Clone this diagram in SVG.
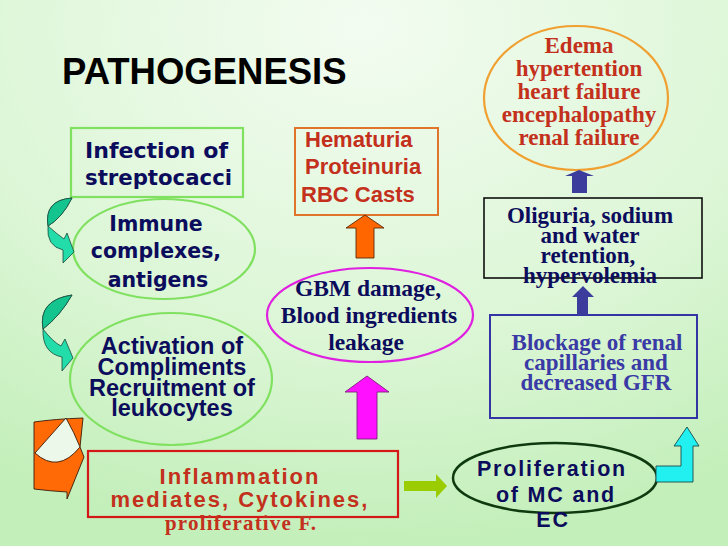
<svg xmlns="http://www.w3.org/2000/svg" width="728" height="546" viewBox="0 0 728 546">
<defs>
<radialGradient id="bg" cx="0.5" cy="0.05" r="0.95">
<stop offset="0" stop-color="#f3fcf1"/>
<stop offset="0.6" stop-color="#dcf6d6"/>
<stop offset="1" stop-color="#c3efba"/>
</radialGradient>
</defs>
<style>
.sans{font-family:"Liberation Sans",Arial,sans-serif;font-weight:bold}
.tah{font-family:"DejaVu Sans",Verdana,sans-serif;font-weight:bold}
.ser{font-family:"Liberation Serif","Times New Roman",serif;font-weight:bold}
.navy{fill:#0c0c5c}
.red{fill:#c3301c}
.blue{fill:#3a3aa6}
.mid{text-anchor:middle}
.gline{fill:none;stroke:#80e060;stroke-width:2.2}
.teal{fill:#22dcaa;stroke:#1d4a3c;stroke-width:0.8}
.tealdark{fill:#14c48e;stroke:#1d4a3c;stroke-width:0.8}
</style>
<rect width="728" height="546" fill="url(#bg)"/>

<text x="62" y="84" class="sans" font-size="36.5" fill="#000">PATHOGENESIS</text>

<g id="infection">
<rect x="71" y="128" width="172" height="69" class="gline"/>
<text x="85" y="158" class="tah navy" font-size="21.5" textLength="143" lengthAdjust="spacingAndGlyphs">Infection of</text>
<text x="85" y="185" class="tah navy" font-size="21.5" textLength="147" lengthAdjust="spacingAndGlyphs">streptocacci</text>
</g>

<g id="immune">
<ellipse cx="164" cy="249" rx="91" ry="50" class="gline"/>
<text x="156" y="231" class="tah navy mid" font-size="20.5">Immune</text>
<text x="156" y="258" class="tah navy mid" font-size="20.5">complexes,</text>
<text x="158" y="287" class="tah navy mid" font-size="20.5">antigens</text>
</g>

<g id="activation">
<ellipse cx="171" cy="379" rx="101" ry="66" class="gline"/>
<text x="172" y="354" class="sans navy mid" font-size="23.5">Activation of</text>
<text x="172" y="375" class="sans navy mid" font-size="23.5">Compliments</text>
<text x="172" y="396" class="sans navy mid" font-size="23.5">Recruitment of</text>
<text x="172" y="416" class="sans navy mid" font-size="23.5">leukocytes</text>
</g>

<g id="inflammation">
<rect x="88" y="451" width="310" height="66" fill="none" stroke="#d41818" stroke-width="2.2"/>
<text x="240" y="484" class="sans red mid" font-size="22" letter-spacing="2">Inflammation</text>
<text x="240" y="507" class="sans red mid" font-size="22" letter-spacing="2">mediates, Cytokines,</text>
<text x="241" y="530" class="ser red mid" font-size="21" letter-spacing="1.2">proliferative F.</text>
</g>

<g id="hematuria">
<rect x="295" y="128" width="143" height="87" fill="none" stroke="#e0742a" stroke-width="2"/>
<text x="305" y="147" class="sans red" font-size="22">Hematuria</text>
<text x="305" y="174" class="sans red" font-size="22">Proteinuria</text>
<text x="301" y="202" class="sans red" font-size="22">RBC Casts</text>
</g>

<g id="gbm">
<ellipse cx="370" cy="315" rx="103" ry="47" fill="none" stroke="#e020e0" stroke-width="2.2"/>
<text x="368" y="296" class="ser navy mid" font-size="23.5">GBM damage,</text>
<text x="369" y="323" class="ser navy mid" font-size="23.5">Blood ingredients</text>
<text x="366" y="350" class="ser navy mid" font-size="23.5">leakage</text>
</g>

<g id="edema">
<ellipse cx="576" cy="98" rx="92" ry="72" fill="none" stroke="#f0a030" stroke-width="2.2"/>
<text x="579" y="53" class="ser red mid" font-size="23">Edema</text>
<text x="579" y="76" class="ser red mid" font-size="23">hypertention</text>
<text x="579" y="99" class="ser red mid" font-size="23">heart failure</text>
<text x="579" y="122" class="ser red mid" font-size="23">encephalopathy</text>
<text x="579" y="145" class="ser red mid" font-size="23">renal failure</text>
</g>

<g id="oliguria">
<rect x="484" y="198" width="218" height="80" fill="none" stroke="#000" stroke-width="1.5"/>
<text x="590" y="223" class="ser navy mid" font-size="23">Oliguria, sodium</text>
<text x="590" y="243" class="ser navy mid" font-size="23">and water</text>
<text x="588" y="263" class="ser navy mid" font-size="23">retention,</text>
<text x="590" y="283" class="ser navy mid" font-size="23">hypervolemia</text>
</g>

<g id="blockage">
<rect x="490" y="315" width="207" height="103" fill="none" stroke="#3434a4" stroke-width="2"/>
<text x="597" y="350" class="ser blue mid" font-size="23">Blockage of renal</text>
<text x="596" y="370" class="ser blue mid" font-size="23">capillaries and</text>
<text x="596" y="390" class="ser blue mid" font-size="23">decreased GFR</text>
</g>

<g id="proliferation">
<ellipse cx="555" cy="478" rx="102" ry="35" fill="none" stroke="#0f3a10" stroke-width="2.5"/>
<text x="552" y="476" class="sans navy mid" font-size="21.5" letter-spacing="1.8">Proliferation</text>
<text x="556" y="502" class="sans navy mid" font-size="21.5" letter-spacing="1.8">of MC and</text>
<text x="553" y="527" class="sans navy mid" font-size="21.5" letter-spacing="1.8">EC</text>
</g>

<g id="connectors">
<path class="teal" d="M72,198 Q44,200 48,226 Q46,246 63,250 L63,263 L74,252 L67,233 L64,239 Q57,234 48,226 Q62,218 72,198 Z"/>
<path class="tealdark" d="M72,198 Q44,200 48,226 Q62,218 72,198 Z"/>
<path class="teal" d="M72,295 Q38,300 43,329 Q42,353 62,357 L62,371 L73,358 L65,339 L61,346 Q53,342 43,329 Q60,316 72,295 Z"/>
<path class="tealdark" d="M72,295 Q38,300 43,329 Q60,316 72,295 Z"/>
<path d="M34,422 Q55,419 83,418 L80,447 L84,457 L67,499 L67,492 Q50,491 34,489 Z" fill="#ff6a06" stroke="#3a1a08" stroke-width="0.9"/>
<path d="M35,453 L66,418 Q74,432 80,447 Q58,474 35,453 Z" fill="#ecf9ea" stroke="#3a1a08" stroke-width="0.9"/>
<path d="M365,215 L384,228 L374,228 L374,258 L356,258 L356,228 L346,228 Z" fill="#ff6600" stroke="#5a2a08" stroke-width="0.9"/>
<path d="M367,376 L389,392 L377,392 L377,439 L357,439 L357,392 L345,392 Z" fill="#ff10ff" stroke="#7a207a" stroke-width="0.9"/>
<path d="M404,481 L436,481 L436,474 L447,486 L436,498 L436,491 L404,491 Z" fill="#9acc00"/>
<path d="M583,286 L594,297 L588,297 L588,315 L577,315 L577,297 L572,297 Z" fill="#3c3c9c"/>
<path d="M579,170 L594,176 L587,176 L587,193 L572,193 L572,176 L565,176 Z" fill="#3c3c9c"/>
<path d="M656,466 L681,466 L681,446 L674,446 L687,427 L699,446 L693,446 L693,482 L656,482 Z" fill="#22f0f0" stroke="#1c4a4a" stroke-width="0.9"/>
</g>
</svg>
